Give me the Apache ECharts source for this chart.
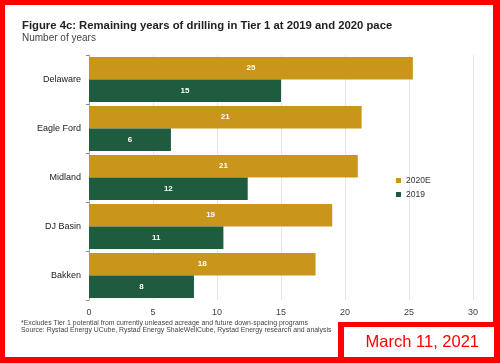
<!DOCTYPE html>
<html><head><meta charset="utf-8">
<script src="https://cdn.jsdelivr.net/npm/echarts@6/dist/echarts.min.js"></script>
<style>html,body{margin:0;padding:0;background:#fff}#c{width:500px;height:363px}</style>
</head><body><div id="c"></div>
<script>
const categories = ['Delaware','Eagle Ford','Midland','DJ Basin','Bakken'];
const s2020E = [25.3, 21.3, 21.0, 19.0, 17.7];
const s2019 = [15.0, 6.4, 12.4, 10.5, 8.2];
const xTicks = [0, 5, 10, 15, 20, 25, 30];

const chart = echarts.init(document.getElementById('c'), null, {renderer:'canvas'});
const lbl = {show:true, position:'inside', color:'#fff', fontWeight:'bold', fontSize:8, fontFamily:'Liberation Sans, Arial', formatter:p=>Math.round(p.value)};
const red = '#ff0000';
chart.setOption({
  animation:false,
  textStyle:{fontFamily:'Liberation Sans, Arial'},
  graphic:[
    {type:'rect', shape:{x:0,y:0,width:500,height:5}, style:{fill:red}, z:100},
    {type:'rect', shape:{x:0,y:0,width:5,height:363}, style:{fill:red}, z:100},
    {type:'rect', shape:{x:493,y:0,width:7,height:363}, style:{fill:red}, z:100},
    {type:'rect', shape:{x:0,y:357,width:500,height:6}, style:{fill:red}, z:100},
    {type:'rect', shape:{x:338,y:322,width:162,height:41}, style:{fill:red}, z:100},
    {type:'rect', shape:{x:344,y:327,width:150,height:30}, style:{fill:'#fff'}, z:101},
    {type:'text', x:479, y:342, style:{text:'March 11, 2021', fill:'#ff0000', font:'16.5px Liberation Sans, Arial', align:'right', verticalAlign:'middle'}, z:102},
    {type:'text', x:22, y:26, style:{text:'Figure 4c: Remaining years of drilling in Tier 1 at 2019 and 2020 pace', fill:'#222', font:'bold 11.3px Liberation Sans, Arial', verticalAlign:'middle'}},
    {type:'text', x:22, y:38, style:{text:'Number of years', fill:'#444', font:'10px Liberation Sans, Arial', verticalAlign:'middle'}},
    {type:'text', x:21, y:323, style:{text:'*Excludes Tier 1 potential from currently unleased acreage and future down-spacing programs', fill:'#444', font:'6.9px Liberation Sans, Arial', verticalAlign:'middle'}},
    {type:'text', x:21, y:330, style:{text:'Source: Rystad Energy UCube, Rystad Energy ShaleWellCube, Rystad Energy research and analysis', fill:'#444', font:'6.9px Liberation Sans, Arial', verticalAlign:'middle'}}
  ],
  legend:{
    data:['2020E','2019'], orient:'vertical', left:391, top:171, itemWidth:5, itemHeight:5, itemGap:5,
    textStyle:{fontSize:8.5, color:'#333'}, icon:'rect'
  },
  grid:{left:89, right:27, top:55, bottom:63},
  xAxis:{
    type:'value', min:0, max:30, interval:5,
    axisLine:{show:false}, axisTick:{show:false},
    splitLine:{lineStyle:{color:'#e6e6e6'}},
    axisLabel:{color:'#444', fontSize:9, margin:8, formatter:v=>xTicks.includes(v)?String(v):''}
  },
  yAxis:{
    type:'category', data:categories, inverse:true,
    axisLine:{show:true, lineStyle:{color:'#aaa'}},
    axisTick:{show:true, length:3, lineStyle:{color:'#888'}},
    axisLabel:{color:'#222', fontSize:9, margin:8}
  },
  series:[
    {name:'2020E', type:'bar', data:s2020E, itemStyle:{color:'#C9961B'}, barGap:'0%', barCategoryGap:'8%', label:lbl},
    {name:'2019', type:'bar', data:s2019, itemStyle:{color:'#1F5B3E'}, label:lbl}
  ]
});
</script></body></html>
